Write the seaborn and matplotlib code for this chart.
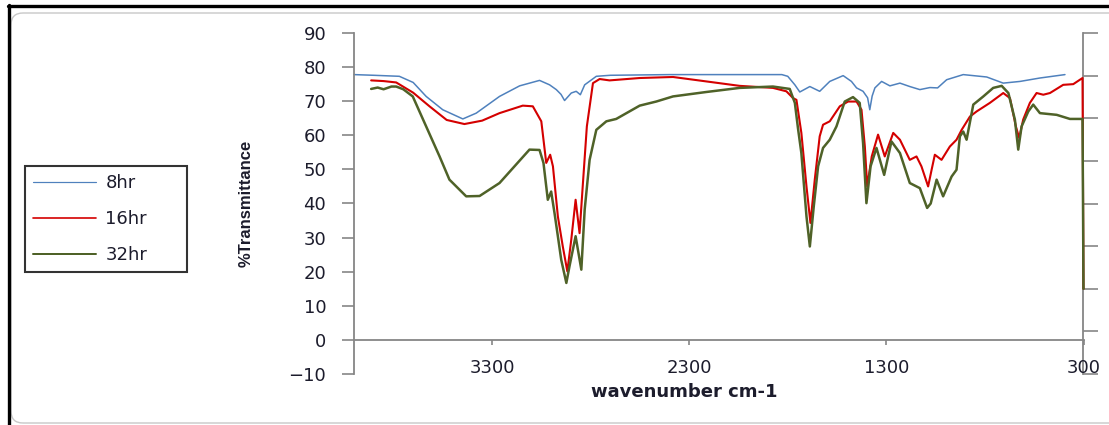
import matplotlib
matplotlib.use("Agg")
import matplotlib.pyplot as plt
import matplotlib.patches as mpatches
import matplotlib.lines as mlines
from matplotlib.transforms import IdentityTransform
import seaborn as sns
import pandas as pd

# ---------------- data ----------------
series_names = ["8hr", "16hr", "32hr"]

wn_8hr = [4000, 3900, 3770, 3700, 3634, 3550, 3448, 3380, 3262, 3160, 3059, 3008, 2974, 2950,
          2932, 2898, 2873, 2852, 2830, 2771, 2700, 2400, 2000, 1830, 1800, 1764, 1739, 1688,
          1638, 1587, 1519, 1477, 1451, 1418, 1395, 1384, 1372, 1358, 1324, 1282, 1231, 1181,
          1130, 1079, 1040, 994, 910, 791, 707, 622, 521, 394]
t_8hr = [77.8, 77.6, 77.3, 75.5, 71.4, 67.5, 64.8, 66.5, 71.4, 74.5, 76.1, 74.8, 73.4, 72.0,
         70.2, 72.4, 72.9, 71.9, 74.8, 77.3, 77.6, 77.8, 77.8, 77.8, 77.3, 74.8, 72.7, 74.3,
         72.9, 75.8, 77.5, 75.8, 73.9, 72.9, 71.0, 67.5, 71.5, 73.9, 75.8, 74.5, 75.3, 74.3,
         73.4, 74.0, 73.9, 76.3, 77.8, 77.1, 75.3, 75.8, 76.8, 77.8]

wn_16hr = [3913, 3850, 3786, 3700, 3617, 3530, 3440, 3350, 3262, 3144, 3093, 3050, 3025, 3005,
           2991, 2966, 2941, 2918, 2898, 2876, 2856, 2840, 2819, 2788, 2754, 2704, 2551, 2382,
           2213, 2044, 1875, 1807, 1773, 1756, 1731, 1705, 1685, 1663, 1638, 1621, 1587, 1536,
           1494, 1451, 1426, 1409, 1397, 1374, 1342, 1308, 1265, 1231, 1181, 1147, 1122, 1088,
           1070, 1054, 1020, 978, 944, 918, 876, 842, 775, 707, 673, 643, 626, 606, 572, 538,
           504, 470, 403, 352, 305, 300]
t_16hr = [76.1, 75.9, 75.5, 72.5, 68.5, 64.5, 63.3, 64.3, 66.5, 68.7, 68.5, 64.1, 51.9, 54.3,
          50.9, 36.2, 27.4, 20.1, 29.4, 41.1, 31.3, 45.0, 62.6, 75.3, 76.5, 76.1, 76.8, 77.1,
          75.8, 74.5, 73.9, 72.9, 70.9, 70.4, 60.7, 45.0, 34.3, 47.0, 59.7, 63.1, 64.1, 68.5,
          69.9, 69.9, 67.5, 56.7, 45.0, 53.8, 60.2, 53.8, 60.7, 58.7, 52.8, 53.8, 50.9, 45.0,
          50.0, 54.3, 52.8, 56.7, 58.7, 61.6, 65.5, 67.0, 69.5, 72.4, 70.9, 62.6, 59.2, 64.6,
          69.5, 72.4, 71.9, 72.4, 74.8, 75.0, 76.8, 15.0]

wn_32hr = [3913, 3880, 3850, 3810, 3786, 3750, 3702, 3634, 3566, 3516, 3431, 3363, 3262, 3110,
           3059, 3039, 3017, 3000, 2983, 2966, 2949, 2923, 2907, 2876, 2847, 2830, 2805, 2771,
           2720, 2670, 2551, 2467, 2382, 2213, 2044, 1875, 1790, 1764, 1748, 1731, 1705, 1688,
           1668, 1646, 1621, 1587, 1553, 1511, 1469, 1435, 1418, 1401, 1380, 1350, 1311, 1274,
           1231, 1181, 1130, 1093, 1075, 1045, 1012, 969, 944, 927, 910, 893, 859, 808, 758,
           715, 681, 648, 631, 614, 580, 555, 521, 436, 369, 305, 300]
t_32hr = [73.6, 74.0, 73.5, 74.3, 74.3, 73.5, 71.4, 62.6, 53.8, 47.0, 42.1, 42.2, 46.0, 55.8,
          55.7, 51.9, 41.1, 43.5, 37.2, 30.4, 23.5, 16.7, 21.6, 30.4, 20.6, 38.2, 52.8, 61.6,
          64.1, 64.8, 68.7, 69.9, 71.4, 72.7, 73.9, 74.3, 73.6, 69.5, 62.0, 54.8, 36.2, 27.4,
          39.2, 50.9, 56.3, 58.7, 62.6, 69.9, 71.2, 69.5, 57.7, 40.1, 50.9, 56.3, 48.4, 58.2,
          54.8, 46.0, 44.5, 38.7, 40.0, 47.0, 42.1, 47.9, 49.9, 59.7, 61.1, 58.7, 69.0, 71.4,
          73.9, 74.5, 72.4, 64.6, 55.8, 62.6, 67.0, 69.0, 66.5, 66.0, 64.8, 64.8, 15.0]

x_ticks = [3300, 2300, 1300, 300]
y_ticks = list(range(-10, 91, 10))
x_label = "wavenumber cm-1"
y_label = "%Transmittance"

# ---------------- styling ----------------
colors = {"8hr": "#4f81bd", "16hr": "#d40000", "32hr": "#4f6228"}
widths = {"8hr": 1.1, "16hr": 1.5, "32hr": 1.8}
axis_gray = "#868686"
text_col = "#1c1c2c"

sns.set_style("white")
plt.rcParams["font.family"] = ["DejaVu Sans"]

W, H = 1109, 425
fig = plt.figure(figsize=(W / 100, H / 100), dpi=100)
fig.patch.set_facecolor("white")

ax = fig.add_axes([354 / W, 51 / H, (1083.5 - 354) / W, 341 / H])

data = {
    "8hr": (wn_8hr, t_8hr),
    "16hr": (wn_16hr, t_16hr),
    "32hr": (wn_32hr, t_32hr),
}
for name in series_names:
    wn, tr = data[name]
    df = pd.DataFrame({"wn": wn, "T": tr})
    sns.lineplot(data=df, x="wn", y="T", ax=ax, color=colors[name], lw=widths[name],
                 label=name, sort=False, estimator=None, legend=False)

for ln in ax.get_lines():
    ln.set_clip_on(False)

ax.set_xlim(4000, 300)
ax.set_ylim(-10, 90)
ax.set_xticks(x_ticks)
ax.set_yticks(y_ticks)

ax.spines["top"].set_visible(False)
ax.spines["right"].set_visible(False)
ax.spines["bottom"].set_position(("data", 0))
for s in ("left", "bottom"):
    ax.spines[s].set_color(axis_gray)
    ax.spines[s].set_linewidth(1.3)

ax.tick_params(axis="y", direction="out", length=9, width=1.2, color=axis_gray,
               pad=11, labelsize=13, labelcolor=text_col, left=True)
ax.tick_params(axis="x", direction="out", length=3.5, width=1.2, color=axis_gray,
               pad=10, labelsize=13, labelcolor=text_col, bottom=True)

ax.set_xlabel(x_label, fontsize=13, fontweight="bold", color=text_col, va="center")
ax.xaxis.set_label_coords(0.453, -0.053)
ax.set_ylabel(y_label, fontsize=12, fontweight="bold", color=text_col, va="center",
              family=["Liberation Sans", "DejaVu Sans"])
ax.yaxis.set_label_coords(-0.148, 0.5)

# secondary (unlabelled) right axis
ax2 = ax.twinx()
ax2.set_ylim(0, 8)
ax2.set_yticks(range(9))
ax2.set_yticklabels([])
for s in ("left", "top", "bottom"):
    ax2.spines[s].set_visible(False)
ax2.spines["right"].set_color(axis_gray)
ax2.spines["right"].set_linewidth(1.3)
ax2.tick_params(axis="y", direction="out", length=11, width=1.2, color=axis_gray, right=True)
ax2.grid(False)
ax.grid(False)
# draw the data above the secondary axis spine
ax.set_zorder(ax2.get_zorder() + 1)
ax.patch.set_visible(False)

# legend
handles = [mlines.Line2D([], [], color=colors[n], lw=widths[n] * 0.8) for n in series_names]
leg = fig.legend(handles, series_names, loc="upper left",
                 bbox_to_anchor=(25 / W, (H - 271) / H, 162 / W, 105 / H),
                 bbox_transform=fig.transFigure, mode="expand", frameon=True,
                 fancybox=False, edgecolor="black", fontsize=13, handlelength=3.5,
                 handletextpad=0.5, labelspacing=1.0, borderpad=0.45, borderaxespad=0)
leg.get_frame().set_linewidth(1.5)
for t in leg.get_texts():
    t.set_color(text_col)

# screenshot-like frame decorations
fig.add_artist(mpatches.FancyBboxPatch((11, 2), 1120, 410,
                                       boxstyle="round,pad=0,rounding_size=12",
                                       transform=IdentityTransform(), fill=False,
                                       edgecolor="#c8c8c8", lw=1.0))
fig.add_artist(mlines.Line2D([8, W], [419, 419], transform=IdentityTransform(),
                             color="black", lw=2.4))
fig.add_artist(mlines.Line2D([8.5, 8.5], [0, 420], transform=IdentityTransform(),
                             color="black", lw=2.4))

fig.savefig("out.png", dpi=100, facecolor="white")
